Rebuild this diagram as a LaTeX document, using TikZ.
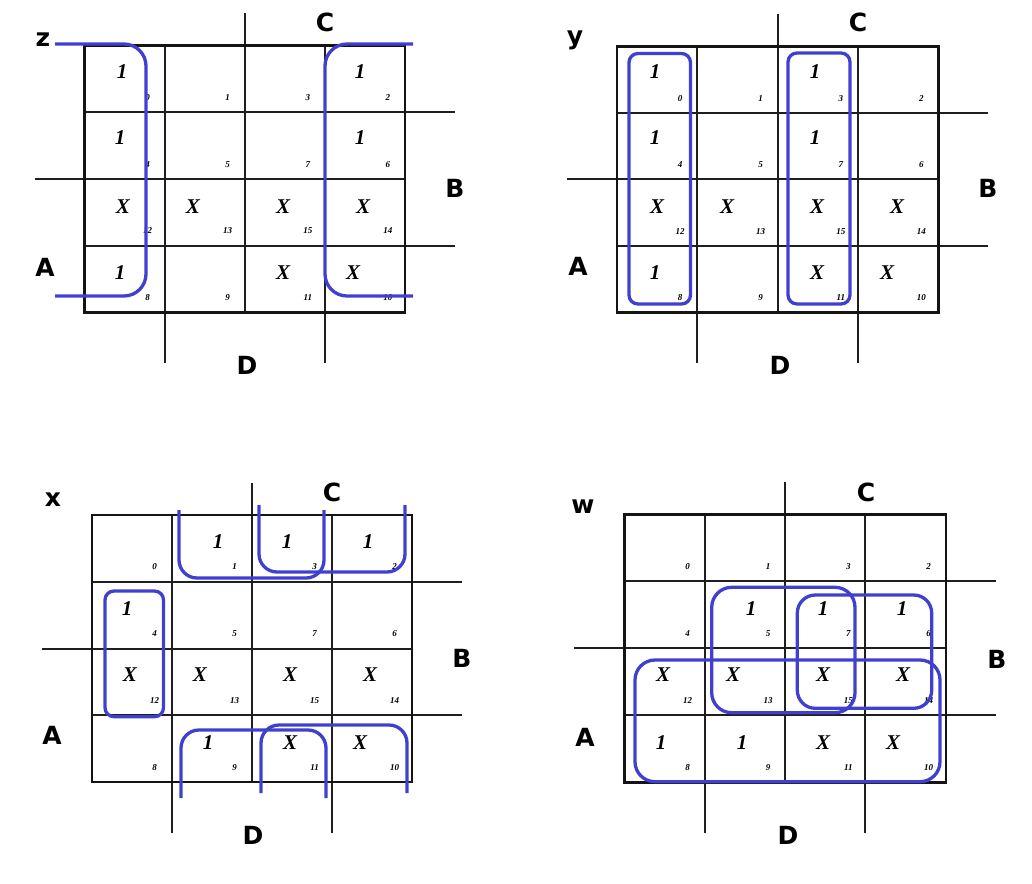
\documentclass[tikz,border=0pt]{standalone}
\usepackage{fontspec}
\setmainfont{Liberation Serif}
\newfontfamily\labfont{DejaVu Sans}
\definecolor{kblue}{RGB}{64,64,208}
\tikzset{
 gridl/.style={line width=2pt, draw=black!88},
 outerl/.style={line width=2.4pt, draw=black!92},
 val/.style={font=\fontsize{21}{21}\selectfont\bfseries\itshape, inner sep=0pt},
 idxn/.style={font=\fontsize{9}{9}\selectfont\bfseries\itshape, inner sep=0pt},
 lab/.style={font=\labfont\fontsize{25}{25}\selectfont\bfseries, inner sep=0pt},
 kloop/.style={draw=kblue, line width=3.3pt},
}
\newcommand\kgrid[5]{%
 \begin{scope}[shift={(#2,#3)}]
  \draw[gridl] (#4,0) -- (#4,4*#5+51);
  \draw[gridl] (2*#4,-32) -- (2*#4,4*#5);
  \draw[gridl] (3*#4,0) -- (3*#4,4*#5+51);
  \draw[gridl] (0,#5) -- (4*#4+50,#5);
  \draw[gridl] (-50,2*#5) -- (4*#4,2*#5);
  \draw[gridl] (0,3*#5) -- (4*#4+50,3*#5);
  \draw[outerl] (0,0) rectangle (4*#4,4*#5);
  \foreach \n/\c/\r in {0/0/0,1/1/0,3/2/0,2/3/0,4/0/1,5/1/1,7/2/1,6/3/1,12/0/2,13/1/2,15/2/2,14/3/2,8/0/3,9/1/3,11/2/3,10/3/3}
   \node[idxn] (#1i\n) at ({(\c+1)*#4-17},{\r*#5+52}) {\n};
 \end{scope}}
\begin{document}
\begin{tikzpicture}[x=1pt,y=-1pt]
\useasboundingbox (0,0) rectangle (1032,883);
% ---------- grids ----------
\kgrid{m1}{84.5}{45.5}{80.1}{66.7}
\kgrid{m2}{616.7}{46.5}{80.4}{66.45}
\kgrid{m3}{91.7}{515}{80}{66.8}
\kgrid{m4}{624.3}{514.3}{80.35}{67}
% ---------- labels ----------
\node[lab] (m1f) at (43,40) {z};
\node[lab] (m1C) at (325,22) {C};
\node[lab] (m1B) at (455,188) {B};
\node[lab] (m1A) at (45,267) {A};
\node[lab] (m1D) at (247,365) {D};
\node[lab] (m2f) at (575,40) {y};
\node[lab] (m2C) at (858,22) {C};
\node[lab] (m2B) at (988,188) {B};
\node[lab] (m2A) at (578,266) {A};
\node[lab] (m2D) at (780,365) {D};
\node[lab] (m3f) at (53,500) {x};
\node[lab] (m3C) at (332,492) {C};
\node[lab] (m3B) at (462,658) {B};
\node[lab] (m3A) at (52,735) {A};
\node[lab] (m3D) at (253,835) {D};
\node[lab] (m4f) at (583,507) {w};
\node[lab] (m4C) at (866,492) {C};
\node[lab] (m4B) at (997,659) {B};
\node[lab] (m4A) at (585,737) {A};
\node[lab] (m4D) at (788,835) {D};
% ---------- values map 1 ----------
\node[val] (m1v0) at (122,72) {1};
\node[val] (m1v4) at (120,138) {1};
\node[val] (m1v12) at (123,207) {X};
\node[val] (m1v8) at (120,273) {1};
\node[val] (m1v13) at (193,207) {X};
\node[val] (m1v15) at (283,207) {X};
\node[val] (m1v11) at (283,273) {X};
\node[val] (m1v2) at (360,72) {1};
\node[val] (m1v6) at (360,138) {1};
\node[val] (m1v14) at (363,207) {X};
\node[val] (m1v10) at (353,273) {X};
% ---------- values map 2 ----------
\node[val] (m2v0) at (655,72) {1};
\node[val] (m2v3) at (815,72) {1};
\node[val] (m2v4) at (655,138) {1};
\node[val] (m2v7) at (815,138) {1};
\node[val] (m2v12) at (657,207) {X};
\node[val] (m2v13) at (727,207) {X};
\node[val] (m2v15) at (817,207) {X};
\node[val] (m2v14) at (897,207) {X};
\node[val] (m2v8) at (655,273) {1};
\node[val] (m2v11) at (817,273) {X};
\node[val] (m2v10) at (887,273) {X};
% ---------- values map 3 ----------
\node[val] (m3v1) at (218,542) {1};
\node[val] (m3v3) at (287,542) {1};
\node[val] (m3v2) at (368,542) {1};
\node[val] (m3v4) at (127,609) {1};
\node[val] (m3v12) at (130,675) {X};
\node[val] (m3v13) at (200,675) {X};
\node[val] (m3v15) at (290,675) {X};
\node[val] (m3v14) at (370,675) {X};
\node[val] (m3v9) at (208,743) {1};
\node[val] (m3v11) at (290,743) {X};
\node[val] (m3v10) at (360,743) {X};
% ---------- values map 4 ----------
\node[val] (m4v5) at (751,609) {1};
\node[val] (m4v7) at (823,609) {1};
\node[val] (m4v6) at (902,609) {1};
\node[val] (m4v12) at (663,675) {X};
\node[val] (m4v13) at (733,675) {X};
\node[val] (m4v15) at (823,675) {X};
\node[val] (m4v14) at (903,675) {X};
\node[val] (m4v8) at (661,743) {1};
\node[val] (m4v9) at (742,743) {1};
\node[val] (m4v11) at (823,743) {X};
\node[val] (m4v10) at (893,743) {X};
% ---------- loops map 1 ----------
\draw[kloop, rounded corners=22] (55,44) -- (146,44) -- (146,296) -- (55,296);
\draw[kloop, rounded corners=22] (413,44) -- (325,44) -- (325,296) -- (413,296);
% ---------- loops map 2 ----------
\draw[kloop, rounded corners=9] (629,53.5) rectangle (690.5,304);
\draw[kloop, rounded corners=9] (788,53) rectangle (850,304);
% ---------- loops map 3 ----------
\draw[kloop, rounded corners=18] (179,510) -- (179,578) -- (324,578) -- (324,510);
\draw[kloop, rounded corners=18] (259,505) -- (259,572) -- (405,572) -- (405,505);
\draw[kloop, rounded corners=9] (105,591) rectangle (163.5,716.7);
\draw[kloop, rounded corners=18] (181,798) -- (181,730) -- (326,730) -- (326,798);
\draw[kloop, rounded corners=18] (261,793) -- (261,725) -- (407,725) -- (407,793);
% ---------- loops map 4 ----------
\draw[kloop, rounded corners=20] (711.7,587.3) rectangle (855,712.7);
\draw[kloop, rounded corners=18] (797.3,595) rectangle (931.7,708.3);
\draw[kloop, rounded corners=20] (635,660) rectangle (940,781.7);
\end{tikzpicture}
\end{document}
